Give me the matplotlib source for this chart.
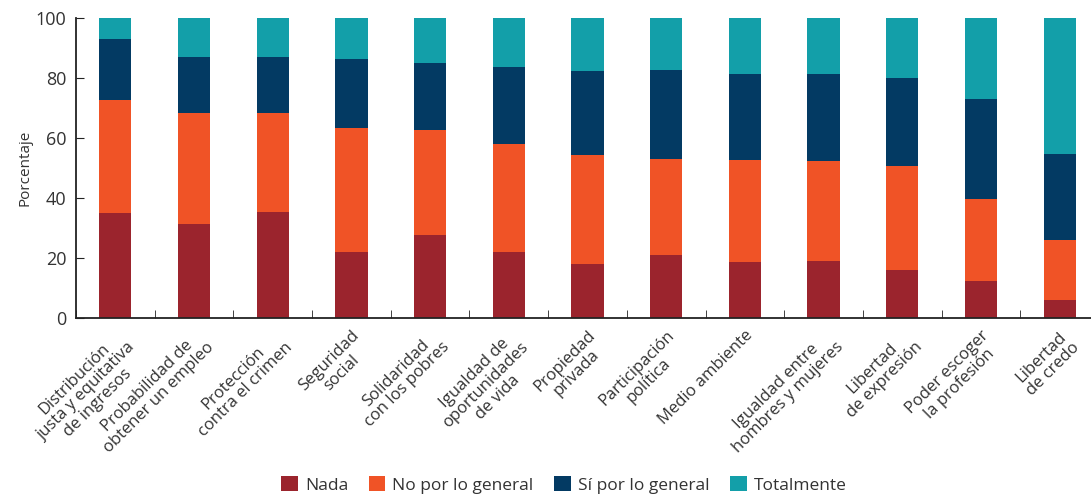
import matplotlib.pyplot as plt
import numpy as np

plt.rcParams['font.family'] = ['Open Sans', 'DejaVu Sans']

categories = [
    "Distribución\njusta y equitativa\nde ingresos",
    "Probabilidad de\nobtener un empleo",
    "Protección\ncontra el crimen",
    "Seguridad\nsocial",
    "Solidaridad\ncon los pobres",
    "Igualdad de\noportunidades\nde vida",
    "Propiedad\nprivada",
    "Participación\npolítica",
    "Medio ambiente",
    "Igualdad entre\nhombres y mujeres",
    "Libertad\nde expresión",
    "Poder escoger\nla profesión",
    "Libertad\nde credo",
]

nada = [35.1, 31.4, 35.4, 22.1, 27.7, 22.1, 18.1, 21.1, 18.7, 19.1, 16.1, 12.4, 6.1]
no_general = [37.6, 37.0, 33.0, 41.3, 35.0, 36.0, 36.3, 32.0, 34.0, 33.3, 34.6, 27.3, 20.0]
si_general = [20.3, 18.6, 18.6, 23.0, 22.3, 25.6, 28.0, 29.6, 28.7, 29.0, 29.3, 33.3, 28.6]
totalmente = [7.0, 13.0, 13.0, 13.6, 15.0, 16.3, 17.6, 17.3, 18.6, 18.6, 20.0, 27.0, 45.3]

series = [("Nada", nada, "#9b242d"),
          ("No por lo general", no_general, "#f05326"),
          ("Sí por lo general", si_general, "#033a63"),
          ("Totalmente", totalmente, "#139fa9")]

fig = plt.figure(figsize=(10.91, 4.95), dpi=100)
ax = fig.add_axes([76/1091, 0.3576, 1023/1091, 0.606])

x = np.arange(len(categories))
bottom = np.zeros(len(categories))
for name, vals, col in series:
    ax.bar(x, vals, width=0.41, bottom=bottom, color=col, label=name)
    bottom += np.array(vals)

ax.set_xlim(-0.5, len(categories) - 0.5)
ax.set_ylim(0, 100)
ax.set_yticks([0, 20, 40, 60, 80, 100])
ax.set_xticks(x)
ax.set_xticklabels(categories, rotation=45, ha='right', rotation_mode='anchor',
                   multialignment='center', fontsize=12, color='#333333',
                   linespacing=1.05)
ax.set_xticks(np.arange(len(categories) + 1) - 0.5, minor=True)
ax.tick_params(axis='x', which='major', length=0, pad=7)
ax.tick_params(axis='x', which='minor', direction='in', length=6, color='#222222')
ax.tick_params(axis='y', direction='in', length=6, color='#222222',
               labelsize=13, labelcolor='#333333', pad=7)
for s in ['top', 'right']:
    ax.spines[s].set_visible(False)
for s in ['left', 'bottom']:
    ax.spines[s].set_color('#222222')
    ax.spines[s].set_linewidth(1.3)

ax.set_ylabel("Porcentaje", fontsize=11, color='#333333', labelpad=2)

fig.legend(loc='center', bbox_to_anchor=(0.517, 0.02), ncol=4, frameon=False,
           fontsize=12.5, handlelength=0.95, handleheight=0.95, handletextpad=0.4,
           columnspacing=1.2, labelcolor='#333333')

fig.savefig("out.png", dpi=100)
